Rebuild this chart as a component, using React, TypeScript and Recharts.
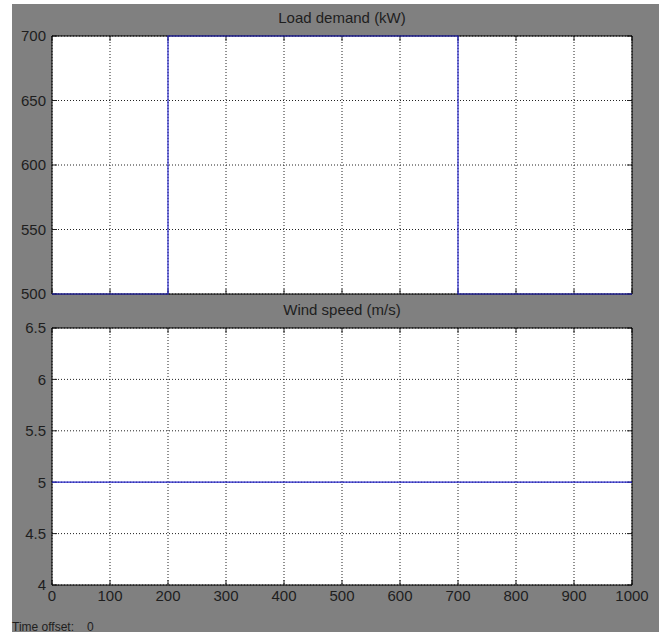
import React from 'react';
import { LineChart, Line, XAxis, YAxis, CartesianGrid, ReferenceArea } from 'recharts';

// Scope traces: time (s) against measured quantity
const loadTime = [0, 200, 200, 700, 700, 1000];
const loadKW = [500, 500, 700, 700, 500, 500];
const windTime = [0, 1000];
const windSpeed = [5, 5];

const timeTicks = [0, 100, 200, 300, 400, 500, 600, 700, 800, 900, 1000];
const loadTicks = [500, 550, 600, 650, 700];
const windTicks = [4, 4.5, 5, 5.5, 6, 6.5];

const loadData = loadTime.map((t, i) => ({ t, v: loadKW[i] }));
const windData = windTime.map((t, i) => ({ t, v: windSpeed[i] }));

const FONT = '"Liberation Sans", Arial, Helvetica, sans-serif';
const TEXT = '#1e1e1e';
const TRACE = '#2626c8';
const GRID = '#222';
const TICK_LEN = 5;

// Dotted grid line with short inward tick marks at both ends
const hLine = (p: any) => (
  <g>
    <line x1={p.x1} y1={p.y1} x2={p.x2} y2={p.y2} stroke={GRID} strokeDasharray="1 2" />
    <line x1={p.x1} y1={p.y1} x2={p.x1 + TICK_LEN} y2={p.y1} stroke={GRID} />
    <line x1={p.x2 - TICK_LEN} y1={p.y2} x2={p.x2} y2={p.y2} stroke={GRID} />
  </g>
);
const vLine = (p: any) => (
  <g>
    <line x1={p.x1} y1={p.y1} x2={p.x2} y2={p.y2} stroke={GRID} strokeDasharray="1 2" />
    <line x1={p.x1} y1={p.y1} x2={p.x1} y2={p.y1 + TICK_LEN} stroke={GRID} />
    <line x1={p.x2} y1={p.y2 - TICK_LEN} x2={p.x2} y2={p.y2} stroke={GRID} />
  </g>
);

const tickStyle = { fontSize: 15, fill: TEXT, fontFamily: FONT };
// Upper panel shares the time grid but prints no time labels
const noLabel = () => <g />;

type PanelProps = {
  data: { t: number; v: number }[];
  yTicks: number[];
  yDomain: [number, number];
  showX: boolean;
  height: number;
  xHeight: number;
};

function Panel({ data, yTicks, yDomain, showX, height, xHeight }: PanelProps) {
  return (
    <LineChart width={647} height={height} data={data} margin={{ top: 32, right: 27, bottom: 0, left: 0 }}>
      <CartesianGrid fill="#fff" fillOpacity={1} horizontal={hLine} vertical={vLine} />
      <XAxis
        type="number"
        dataKey="t"
        domain={[0, 1000]}
        ticks={timeTicks}
        interval={0}
        height={xHeight}
        axisLine={false}
        tickLine={false}
        tickSize={0}
        tickMargin={5}
        tick={showX ? tickStyle : noLabel}
      />
      <YAxis
        type="number"
        domain={yDomain}
        ticks={yTicks}
        interval={0}
        width={40}
        axisLine={false}
        tickLine={false}
        tickSize={0}
        tickMargin={6}
        tick={tickStyle}
      />
      <ReferenceArea
        x1={0}
        x2={1000}
        y1={yDomain[0]}
        y2={yDomain[1]}
        fill="none"
        fillOpacity={0}
        stroke="#000"
        strokeWidth={1}
      />
      <Line
        type="linear"
        dataKey="v"
        stroke={TRACE}
        strokeWidth={1.2}
        dot={false}
        activeDot={false}
        isAnimationActive={false}
      />
    </LineChart>
  );
}

export default function App() {
  return (
    <div
      style={{
        position: 'absolute',
        left: 12,
        top: 4,
        width: 647,
        height: 628,
        background: '#808080',
        fontFamily: FONT,
        color: TEXT,
      }}
    >
      <div style={{ position: 'absolute', left: 0, top: 0 }}>
        <Panel data={loadData} yTicks={loadTicks} yDomain={[500, 700]} showX={false} height={300} xHeight={10} />
      </div>
      <div style={{ position: 'absolute', left: 0, top: 292 }}>
        <Panel data={windData} yTicks={windTicks} yDomain={[4, 6.5]} showX={true} height={315} xHeight={26} />
      </div>
      <div
        style={{
          position: 'absolute',
          left: 40,
          width: 580,
          top: 5,
          textAlign: 'center',
          fontSize: 15,
          lineHeight: '18px',
        }}
      >
        Load demand (kW)
      </div>
      <div
        style={{
          position: 'absolute',
          left: 40,
          width: 580,
          top: 297,
          textAlign: 'center',
          fontSize: 15,
          lineHeight: '18px',
        }}
      >
        Wind speed (m/s)
      </div>
      <div style={{ position: 'absolute', left: 0, top: 616, fontSize: 12, lineHeight: '14px', whiteSpace: 'nowrap' }}>
        <span>Time offset:</span>
        <span style={{ marginLeft: 13 }}>0</span>
      </div>
    </div>
  );
}
